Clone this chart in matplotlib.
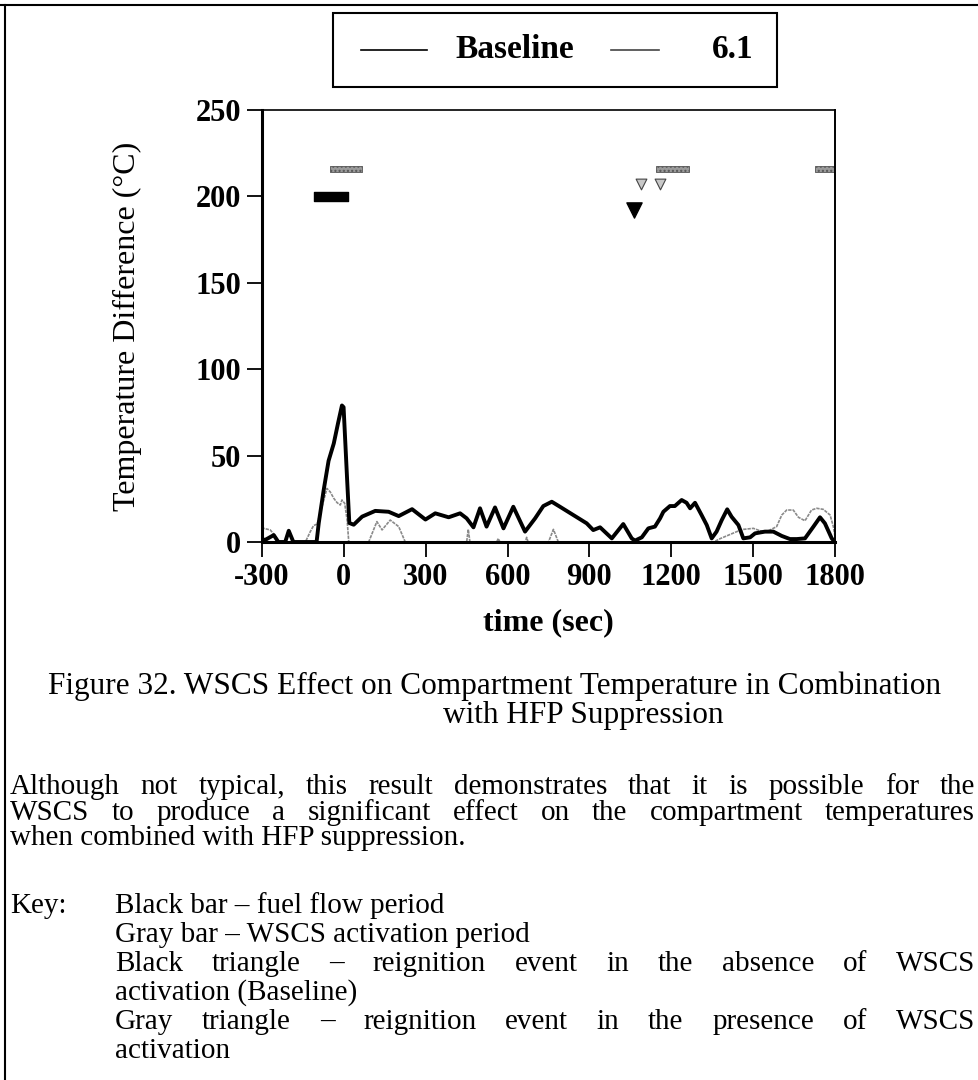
import numpy as np
import matplotlib
matplotlib.use("Agg")
import matplotlib.pyplot as plt
from matplotlib.lines import Line2D
from matplotlib.patches import Rectangle

# --- data ---
base_t = [-300, -285, -257, -240, -215, -202, -185, -100, -92, -74,
          -56, -37, -21, -7, -1, 12, 20, 36, 67, 115,
          164, 201, 250, 299, 335, 384, 426, 450, 475, 499,
          523, 554, 585, 621, 664, 701, 731, 762, 792, 841,
          890, 914, 939, 982, 1024, 1055, 1067, 1092, 1116, 1140,
          1159, 1171, 1195, 1213, 1238, 1256, 1269, 1287, 1311, 1330,
          1348, 1366, 1385, 1405, 1421, 1446, 1464, 1489, 1507, 1543,
          1574, 1605, 1635, 1660, 1690, 1721, 1745, 1763, 1788, 1800]
base_v = [1, 1.5, 4, 0, 0, 6.5, 0, 0, 11, 30,
          47, 57, 69, 79, 78, 36, 11, 10, 14.7, 18,
          17.5, 15, 19, 13, 16.6, 14.3, 16.6, 13.7, 8.5, 19.5,
          8.9, 20, 7.9, 20.4, 6, 13.7, 20.8, 23.3, 20.4, 15.6,
          10.8, 6.9, 8.5, 2.1, 10.4, 2.1, 0.8, 2.7, 7.9, 8.9,
          13.7, 17.5, 20.8, 20.8, 24.3, 22.7, 19.5, 22.7, 15.6, 9.8,
          2.1, 6, 12.7, 18.9, 14.6, 9.8, 2.1, 2.7, 5, 6,
          6, 3.5, 1.7, 1.7, 2.1, 8.9, 14.3, 10.8, 2.1, 0]

t61 = [-300, -294, -270, -251, -239, -141, -123, -111, -98, -80,
       -62, -50, -37, -25, -13, -7, 3, 12, 18, 91,
       121, 140, 170, 201, 225, 450, 456, 462, 560, 566,
       572, 665, 670, 675, 750, 768, 786, 890, 1355, 1380,
       1410, 1440, 1464, 1501, 1525, 1550, 1586, 1605, 1623, 1647,
       1666, 1690, 1714, 1733, 1757, 1782, 1794, 1800]
v61 = [7, 7.9, 7, 3.5, 0, 0, 6, 9.5, 10.4, 20.5,
       31, 29, 25.3, 22.8, 21.4, 24.3, 22.4, 12.7, 0, 0,
       11.8, 7, 12.7, 8.9, 0, 0, 7.3, 0, 0, 2,
       0, 0, 2.7, 0, 0, 7.3, 0, 0, 0, 2,
       4, 6, 7.3, 7.9, 6.5, 6, 8.9, 15.6, 18.5, 18.5,
       14.3, 12.3, 18.5, 19.5, 18.9, 15.6, 8.9, 3]

fuel_start, fuel_end, fuel_y = -110, 15, 200
wscs_start = [-50, 1145, 1725]
wscs_end = [65, 1265, 1800]
wscs_y = 216
black_tri_t, black_tri_y = [1065], [192]
gray_tri_t, gray_tri_y = [1090, 1160], [207, 207]

xticks = [-300, 0, 300, 600, 900, 1200, 1500, 1800]
yticks = [0, 50, 100, 150, 200, 250]
legend_labels = ["Baseline", "6.1"]

W, H = 979, 1080
fig = plt.figure(figsize=(W / 100, H / 100), dpi=100)

def fx(x):
    return x / W

def fy(y):
    return 1 - y / H

chart_font = dict(family="Liberation Serif", weight="bold")
body_font = dict(family="Liberation Serif")

ax = fig.add_axes([fx(262), fy(542), fx(835) - fx(262), fy(110) - fy(542)])
ax.plot(t61, v61, color="#8a8a8a", lw=1.2, ls=(0, (2, 0.6)), zorder=2)
ax.plot(base_t, base_v, color="black", lw=2.8, zorder=3)

ax.broken_barh([(fuel_start, fuel_end - fuel_start)], (fuel_y - 2.6, 5.2),
               facecolor="black", edgecolor="black")
ax.broken_barh([(s, e - s) for s, e in zip(wscs_start, wscs_end)],
               (wscs_y - 1.8, 3.6), facecolor="#9a9a9a", edgecolor="#555555",
               lw=0.6, hatch="....")
ax.scatter(black_tri_t, black_tri_y, marker="v", s=120, color="black", zorder=4)
ax.scatter(gray_tri_t, gray_tri_y, marker="v", s=60, facecolor="#c8c8c8",
           edgecolor="#444444", lw=0.8, zorder=4)

ax.set_xlim(-300, 1800)
ax.set_ylim(0, 250)
ax.set_xticks(xticks)
ax.set_yticks(yticks)
ax.set_xticklabels([str(v) for v in xticks], fontsize=22, **chart_font)
ax.set_yticklabels([str(v) for v in yticks], fontsize=22, **chart_font)
ax.tick_params(direction="out", length=11, width=1.3, pad=4)
ax.spines["left"].set_linewidth(2.2)
ax.spines["bottom"].set_linewidth(2.2)
ax.spines["top"].set_linewidth(1.2)
ax.spines["right"].set_linewidth(1.4)
ax.set_xlabel("time (sec)", fontsize=23, **chart_font)
ax.xaxis.set_label_coords(0.5, -(623 - 542) / 432, transform=ax.transAxes)
ax.set_ylabel("Temperature Difference (\u00b0C)", fontsize=23,
              family="Liberation Serif")
ax.yaxis.set_label_coords((127 - 262) / 573, 0.5, transform=ax.transAxes)
ax.xaxis.label.set_va("center")
ax.yaxis.label.set_va("center")

# legend box at the top
fig.add_artist(Rectangle((fx(333), fy(87)), fx(777) - fx(333), fy(13) - fy(87),
                         fill=False, edgecolor="black", lw=1.5))
fig.add_artist(Line2D([fx(361), fx(427)], [fy(50), fy(50)], color="black", lw=1.2))
fig.add_artist(Line2D([fx(611), fx(659)], [fy(50), fy(50)], color="#444444", lw=1.2))
fig.text(fx(455), fy(50), legend_labels[0], fontsize=24, va="center", **chart_font)
fig.text(fx(712), fy(50), legend_labels[1], fontsize=24, va="center", **chart_font)

# page frame lines
fig.add_artist(Line2D([0, 1], [fy(5), fy(5)], color="black", lw=1.5))
fig.add_artist(Line2D([fx(5), fx(5)], [fy(5), 0], color="black", lw=1.5))

# caption (y given as baseline)
fig.text(fx(495), fy(694), "Figure 32. WSCS Effect on Compartment Temperature in Combination",
         ha="center", va="baseline", fontsize=22.5, **body_font)
fig.text(fx(583), fy(723), "with HFP Suppression", ha="center", va="baseline",
         fontsize=22.5, **body_font)

renderer = fig.canvas.get_renderer()
SIZE = 21

def justify(line, x0, x1, y, size=SIZE):
    words = line.split()
    items = [fig.text(0, fy(y), w, fontsize=size, va="baseline", **body_font) for w in words]
    widths = [t.get_window_extent(renderer).width for t in items]
    gap = (x1 - x0 - sum(widths)) / (len(words) - 1)
    x = x0
    for t, w in zip(items, widths):
        t.set_x(fx(x))
        x += w + gap

def plain(line, x0, y, size=SIZE):
    fig.text(fx(x0), fy(y), line, fontsize=size, va="baseline", **body_font)

justify("Although not typical, this result demonstrates that it is possible for the", 10, 975, 794)
justify("WSCS to produce a significant effect on the compartment temperatures", 10, 975, 820)
plain("when combined with HFP suppression.", 10, 845)

plain("Key:", 10, 913)
plain("Black bar \u2013 fuel flow period", 115, 913)
plain("Gray bar \u2013 WSCS activation period", 115, 942)
justify("Black triangle \u2013 reignition event in the absence of WSCS", 115, 975, 971)
plain("activation (Baseline)", 115, 1000)
justify("Gray triangle \u2013 reignition event in the presence of WSCS", 115, 975, 1029)
plain("activation", 115, 1058)

fig.savefig("out.png", dpi=100)
